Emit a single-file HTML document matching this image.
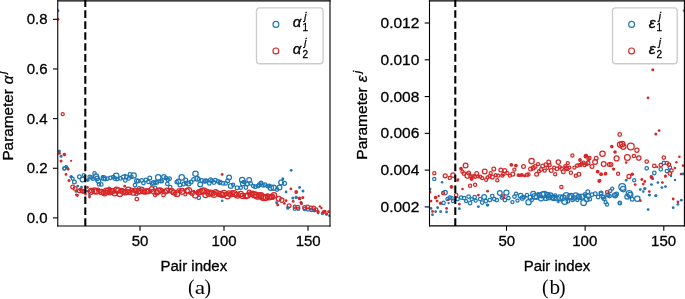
<!DOCTYPE html>
<html><head><meta charset="utf-8"><style>
html,body{margin:0;padding:0;background:#fff;}
#c{position:relative;width:685px;height:299px;overflow:hidden;background:#fff;}
svg{position:absolute;left:0;top:0;will-change:transform;}
</style></head><body><div id="c">
<svg width="685" height="299" viewBox="0 0 685 299">
<defs><clipPath id="cl"><rect x="57.75" y="0.75" width="272.25" height="225.25"/></clipPath><clipPath id="cr"><rect x="429.5" y="0.75" width="254.9" height="225.15"/></clipPath></defs><g clip-path="url(#cl)"><g fill="none" stroke="#1f77b4" stroke-width="1.25"><circle cx="57.68" cy="10.65" r="1.70" fill="#1f77b4" stroke="none"/><circle cx="59.36" cy="150.89" r="1.50" fill="#1f77b4" stroke="none"/><circle cx="61.04" cy="156.35" r="1.50" fill="#1f77b4" stroke="none"/><circle cx="64.40" cy="168.51" r="1.68"/><circle cx="66.08" cy="166.52" r="1.40" fill="#1f77b4" stroke="none"/><circle cx="67.76" cy="168.26" r="1.40" fill="#1f77b4" stroke="none"/><circle cx="88.00" cy="180.10" r="1.30" fill="#1f77b4" stroke="none"/><circle cx="91.40" cy="177.40" r="1.78"/><circle cx="94.50" cy="173.20" r="1.68"/><circle cx="96.10" cy="176.50" r="2.58"/><circle cx="97.10" cy="178.40" r="2.18"/><circle cx="98.30" cy="180.70" r="2.38"/><circle cx="98.90" cy="184.40" r="1.58"/><circle cx="101.30" cy="184.40" r="1.78"/><circle cx="102.80" cy="176.80" r="1.90" fill="#1f77b4" stroke="none"/><circle cx="103.60" cy="178.00" r="2.38"/><circle cx="105.10" cy="179.10" r="1.78"/><circle cx="107.40" cy="178.70" r="1.78"/><circle cx="109.00" cy="188.10" r="1.70" fill="#1f77b4" stroke="none"/><circle cx="110.50" cy="177.80" r="1.78"/><circle cx="113.20" cy="177.10" r="1.78"/><circle cx="116.20" cy="175.70" r="2.68"/><circle cx="117.20" cy="179.10" r="1.78"/><circle cx="120.60" cy="178.40" r="1.78"/><circle cx="125.00" cy="175.10" r="1.30" fill="#1f77b4" stroke="none"/><circle cx="125.30" cy="180.40" r="1.78"/><circle cx="128.70" cy="178.40" r="1.78"/><circle cx="130.00" cy="174.40" r="1.78"/><circle cx="133.70" cy="175.40" r="2.58"/><circle cx="135.00" cy="185.10" r="1.78"/><circle cx="138.10" cy="181.10" r="1.88"/><circle cx="139.00" cy="188.20" r="1.58"/><circle cx="141.70" cy="180.40" r="1.78"/><circle cx="143.40" cy="183.10" r="1.78"/><circle cx="145.80" cy="179.80" r="1.78"/><circle cx="149.80" cy="178.10" r="1.88"/><circle cx="151.80" cy="183.80" r="1.58"/><circle cx="155.10" cy="187.70" r="1.58"/><circle cx="155.50" cy="182.30" r="1.78"/><circle cx="158.20" cy="177.40" r="2.68"/><circle cx="160.50" cy="181.10" r="1.78"/><circle cx="163.90" cy="176.70" r="2.18"/><circle cx="165.90" cy="178.10" r="1.78"/><circle cx="167.90" cy="179.80" r="1.78"/><circle cx="169.60" cy="178.70" r="1.78"/><circle cx="167.30" cy="183.80" r="1.78"/><circle cx="170.20" cy="187.20" r="1.78"/><circle cx="176.70" cy="182.10" r="1.78"/><circle cx="178.40" cy="181.40" r="2.38"/><circle cx="180.00" cy="185.10" r="1.88"/><circle cx="181.70" cy="177.40" r="2.68"/><circle cx="185.70" cy="180.10" r="1.88"/><circle cx="186.30" cy="183.10" r="1.78"/><circle cx="188.40" cy="183.40" r="2.38"/><circle cx="191.10" cy="182.10" r="1.88"/><circle cx="193.50" cy="179.40" r="1.78"/><circle cx="195.50" cy="173.70" r="2.68"/><circle cx="197.20" cy="178.70" r="2.38"/><circle cx="200.20" cy="184.50" r="2.38"/><circle cx="201.90" cy="180.40" r="1.88"/><circle cx="204.50" cy="181.40" r="1.78"/><circle cx="206.60" cy="180.80" r="1.78"/><circle cx="209.30" cy="183.40" r="1.78"/><circle cx="211.90" cy="180.80" r="1.78"/><circle cx="215.30" cy="180.10" r="1.78"/><circle cx="218.00" cy="181.40" r="1.78"/><circle cx="219.70" cy="182.80" r="1.78"/><circle cx="220.30" cy="182.10" r="1.78"/><circle cx="223.00" cy="183.40" r="1.78"/><circle cx="225.70" cy="183.40" r="1.78"/><circle cx="227.70" cy="180.70" r="1.88"/><circle cx="229.10" cy="177.40" r="2.38"/><circle cx="230.80" cy="186.10" r="2.38"/><circle cx="233.10" cy="184.80" r="1.58"/><circle cx="237.10" cy="187.80" r="1.88"/><circle cx="242.20" cy="180.10" r="2.68"/><circle cx="242.80" cy="183.40" r="2.38"/><circle cx="245.90" cy="187.50" r="1.78"/><circle cx="249.20" cy="180.10" r="2.38"/><circle cx="250.60" cy="183.40" r="1.78"/><circle cx="253.30" cy="186.10" r="1.78"/><circle cx="255.30" cy="186.80" r="1.78"/><circle cx="258.00" cy="186.10" r="1.78"/><circle cx="261.00" cy="183.10" r="1.88"/><circle cx="263.30" cy="185.40" r="1.78"/><circle cx="260.80" cy="183.60" r="1.78"/><circle cx="265.00" cy="184.80" r="1.88"/><circle cx="267.70" cy="186.10" r="1.78"/><circle cx="270.80" cy="187.70" r="2.68"/><circle cx="273.70" cy="187.80" r="2.68"/><circle cx="279.50" cy="187.40" r="2.38"/><circle cx="281.10" cy="182.40" r="2.38"/><circle cx="282.80" cy="178.70" r="1.50" fill="#1f77b4" stroke="none"/><circle cx="277.00" cy="189.50" r="1.78"/><circle cx="89.60" cy="176.87" r="1.67"/><circle cx="92.96" cy="178.85" r="1.62"/><circle cx="114.80" cy="178.51" r="1.80"/><circle cx="123.20" cy="177.07" r="1.88"/><circle cx="126.56" cy="177.01" r="1.84"/><circle cx="131.60" cy="177.11" r="1.63"/><circle cx="136.64" cy="180.87" r="2.08"/><circle cx="148.40" cy="181.97" r="1.71"/><circle cx="153.44" cy="182.68" r="2.15"/><circle cx="156.80" cy="182.53" r="1.82"/><circle cx="161.84" cy="181.23" r="1.61"/><circle cx="183.68" cy="184.18" r="1.75"/><circle cx="198.80" cy="179.33" r="1.65"/><circle cx="205.52" cy="180.83" r="2.07"/><circle cx="210.56" cy="179.84" r="1.93"/><circle cx="213.92" cy="182.52" r="1.80"/><circle cx="240.80" cy="187.64" r="1.62"/><circle cx="244.16" cy="182.08" r="1.70"/><circle cx="247.52" cy="183.94" r="1.84"/><circle cx="259.28" cy="184.84" r="1.93"/><circle cx="269.36" cy="185.96" r="1.76"/><circle cx="284.48" cy="183.28" r="2.00"/><circle cx="71.10" cy="176.70" r="1.80" fill="#1f77b4" stroke="none"/><circle cx="72.70" cy="178.70" r="1.48"/><circle cx="74.40" cy="182.10" r="1.88"/><circle cx="77.80" cy="186.10" r="1.40" fill="#1f77b4" stroke="none"/><circle cx="81.50" cy="187.10" r="1.40" fill="#1f77b4" stroke="none"/><circle cx="79.40" cy="176.70" r="1.88"/><circle cx="82.50" cy="179.40" r="2.38"/><circle cx="83.80" cy="175.00" r="1.48"/><circle cx="87.80" cy="180.10" r="1.80" fill="#1f77b4" stroke="none"/><circle cx="76.10" cy="191.40" r="1.40" fill="#1f77b4" stroke="none"/><circle cx="87.20" cy="191.10" r="1.40" fill="#1f77b4" stroke="none"/><circle cx="89.50" cy="195.10" r="1.40" fill="#1f77b4" stroke="none"/><circle cx="66.40" cy="166.40" r="1.40" fill="#1f77b4" stroke="none"/><circle cx="64.40" cy="168.40" r="1.48"/><circle cx="198.80" cy="197.80" r="1.78"/><circle cx="222.20" cy="200.80" r="1.30" fill="#1f77b4" stroke="none"/><circle cx="286.10" cy="192.00" r="1.40" fill="#1f77b4" stroke="none"/><circle cx="291.20" cy="170.30" r="1.40" fill="#1f77b4" stroke="none"/><circle cx="292.80" cy="198.10" r="1.50" fill="#1f77b4" stroke="none"/><circle cx="296.20" cy="197.40" r="1.70" fill="#1f77b4" stroke="none"/><circle cx="299.60" cy="187.50" r="1.40" fill="#1f77b4" stroke="none"/><circle cx="303.00" cy="191.00" r="1.50" fill="#1f77b4" stroke="none"/><circle cx="300.90" cy="202.40" r="1.40" fill="#1f77b4" stroke="none"/><circle cx="276.70" cy="202.40" r="1.50" fill="#1f77b4" stroke="none"/><circle cx="287.80" cy="207.80" r="1.90" fill="#1f77b4" stroke="none"/><circle cx="294.80" cy="208.80" r="1.58"/><circle cx="301.40" cy="202.70" r="1.40" fill="#1f77b4" stroke="none"/><circle cx="298.30" cy="208.70" r="1.58"/><circle cx="304.70" cy="209.00" r="1.58"/><circle cx="308.00" cy="209.50" r="1.58"/><circle cx="311.40" cy="210.00" r="1.58"/><circle cx="314.50" cy="210.50" r="1.90" fill="#1f77b4" stroke="none"/><circle cx="318.10" cy="213.10" r="1.40" fill="#1f77b4" stroke="none"/><circle cx="322.40" cy="213.40" r="1.70" fill="#1f77b4" stroke="none"/><circle cx="326.50" cy="214.40" r="1.40" fill="#1f77b4" stroke="none"/><circle cx="329.50" cy="215.70" r="1.40" fill="#1f77b4" stroke="none"/><circle cx="136.30" cy="194.10" r="1.58"/><circle cx="110.10" cy="188.60" r="1.40" fill="#1f77b4" stroke="none"/></g><g fill="none" stroke="#d62728" stroke-width="1.25"><circle cx="57.68" cy="19.34" r="1.70" fill="#d62728" stroke="none"/><circle cx="59.36" cy="153.37" r="1.50" fill="#d62728" stroke="none"/><circle cx="61.04" cy="161.06" r="1.50" fill="#d62728" stroke="none"/><circle cx="62.72" cy="114.15" r="1.53"/><circle cx="64.40" cy="154.61" r="1.80" fill="#d62728" stroke="none"/><circle cx="68.10" cy="169.25" r="1.40" fill="#d62728" stroke="none"/><circle cx="71.12" cy="160.81" r="1.10" fill="#d62728" stroke="none"/><circle cx="91.28" cy="191.29" r="2.97"/><circle cx="92.96" cy="189.89" r="1.55"/><circle cx="94.64" cy="190.80" r="2.86"/><circle cx="96.32" cy="191.44" r="2.62"/><circle cx="98.00" cy="189.77" r="1.72"/><circle cx="99.68" cy="190.98" r="1.57"/><circle cx="101.36" cy="191.90" r="2.59"/><circle cx="103.04" cy="192.82" r="1.95"/><circle cx="104.72" cy="193.04" r="2.81"/><circle cx="106.40" cy="191.15" r="3.07"/><circle cx="108.08" cy="191.03" r="2.78"/><circle cx="109.76" cy="192.26" r="2.60"/><circle cx="111.44" cy="191.17" r="2.87"/><circle cx="113.12" cy="190.97" r="2.40"/><circle cx="114.80" cy="193.21" r="2.58"/><circle cx="116.48" cy="190.04" r="2.98"/><circle cx="118.16" cy="190.54" r="2.55"/><circle cx="119.84" cy="193.51" r="2.98"/><circle cx="121.52" cy="190.88" r="2.39"/><circle cx="123.20" cy="191.67" r="2.62"/><circle cx="124.88" cy="192.25" r="2.56"/><circle cx="126.56" cy="191.99" r="2.69"/><circle cx="128.24" cy="189.89" r="2.74"/><circle cx="129.92" cy="192.04" r="2.23"/><circle cx="131.60" cy="189.98" r="1.86"/><circle cx="133.28" cy="192.70" r="2.54"/><circle cx="134.96" cy="190.30" r="2.24"/><circle cx="136.64" cy="190.61" r="2.33"/><circle cx="138.32" cy="191.78" r="2.32"/><circle cx="140.00" cy="191.28" r="2.51"/><circle cx="141.68" cy="189.37" r="2.31"/><circle cx="143.36" cy="191.28" r="2.49"/><circle cx="145.04" cy="192.04" r="1.98"/><circle cx="146.72" cy="191.26" r="2.62"/><circle cx="148.40" cy="191.27" r="2.42"/><circle cx="150.08" cy="191.47" r="1.48"/><circle cx="151.76" cy="189.05" r="2.31"/><circle cx="153.44" cy="191.39" r="2.20"/><circle cx="155.12" cy="194.86" r="1.80"/><circle cx="156.80" cy="192.38" r="2.51"/><circle cx="158.48" cy="190.91" r="2.88"/><circle cx="160.16" cy="190.22" r="2.38"/><circle cx="161.84" cy="190.69" r="1.86"/><circle cx="163.52" cy="194.93" r="1.82"/><circle cx="165.20" cy="191.77" r="2.21"/><circle cx="166.88" cy="190.65" r="2.43"/><circle cx="168.56" cy="192.11" r="1.38" fill="#d62728" stroke="none"/><circle cx="170.24" cy="190.33" r="1.97"/><circle cx="171.92" cy="191.04" r="2.38"/><circle cx="173.60" cy="192.38" r="2.36"/><circle cx="175.28" cy="193.82" r="1.67"/><circle cx="176.96" cy="193.82" r="2.90"/><circle cx="178.64" cy="190.75" r="1.85"/><circle cx="180.32" cy="191.35" r="1.67"/><circle cx="182.00" cy="191.36" r="2.90"/><circle cx="183.68" cy="190.46" r="1.36" fill="#d62728" stroke="none"/><circle cx="185.36" cy="194.46" r="1.48"/><circle cx="187.04" cy="190.71" r="2.32"/><circle cx="188.72" cy="190.64" r="2.92"/><circle cx="190.40" cy="193.47" r="1.46" fill="#d62728" stroke="none"/><circle cx="192.08" cy="193.22" r="2.19"/><circle cx="193.76" cy="191.30" r="1.46" fill="#d62728" stroke="none"/><circle cx="195.44" cy="195.05" r="2.96"/><circle cx="197.12" cy="192.97" r="1.51"/><circle cx="198.80" cy="192.59" r="2.71"/><circle cx="200.48" cy="191.70" r="2.56"/><circle cx="202.16" cy="191.02" r="2.59"/><circle cx="203.84" cy="190.93" r="2.99"/><circle cx="205.52" cy="194.97" r="2.66"/><circle cx="207.20" cy="191.64" r="2.20"/><circle cx="208.88" cy="193.54" r="2.90"/><circle cx="210.56" cy="192.67" r="2.61"/><circle cx="212.24" cy="193.20" r="2.65"/><circle cx="213.92" cy="194.44" r="2.89"/><circle cx="215.60" cy="191.95" r="2.43"/><circle cx="217.28" cy="192.24" r="1.68"/><circle cx="218.96" cy="194.93" r="1.65"/><circle cx="220.64" cy="193.94" r="2.63"/><circle cx="222.32" cy="194.99" r="2.66"/><circle cx="224.00" cy="193.46" r="3.03"/><circle cx="225.68" cy="194.19" r="1.54"/><circle cx="227.36" cy="195.80" r="3.03"/><circle cx="229.04" cy="193.45" r="2.58"/><circle cx="230.72" cy="194.44" r="2.40"/><circle cx="232.40" cy="192.58" r="1.92"/><circle cx="234.08" cy="193.48" r="2.82"/><circle cx="235.76" cy="194.70" r="1.96"/><circle cx="237.44" cy="195.04" r="3.04"/><circle cx="239.12" cy="195.70" r="1.53" fill="#d62728" stroke="none"/><circle cx="240.80" cy="194.05" r="2.57"/><circle cx="242.48" cy="195.89" r="2.47"/><circle cx="244.16" cy="195.04" r="1.39"/><circle cx="245.84" cy="196.14" r="2.48"/><circle cx="247.52" cy="195.47" r="2.64"/><circle cx="249.20" cy="192.15" r="1.96"/><circle cx="250.88" cy="193.92" r="2.42"/><circle cx="252.56" cy="193.37" r="2.30"/><circle cx="254.24" cy="194.84" r="3.00"/><circle cx="255.92" cy="195.09" r="3.01"/><circle cx="257.60" cy="196.38" r="2.81"/><circle cx="259.28" cy="195.41" r="2.56"/><circle cx="260.96" cy="195.68" r="3.02"/><circle cx="262.64" cy="197.36" r="2.95"/><circle cx="264.32" cy="197.67" r="2.96"/><circle cx="266.00" cy="197.28" r="3.01"/><circle cx="267.68" cy="196.20" r="2.30"/><circle cx="269.36" cy="197.49" r="2.33"/><circle cx="271.04" cy="197.00" r="2.36"/><circle cx="272.72" cy="197.41" r="1.55"/><circle cx="124.70" cy="186.20" r="1.40" fill="#d62728" stroke="none"/><circle cx="136.80" cy="199.10" r="1.78"/><circle cx="66.00" cy="174.40" r="1.40" fill="#d62728" stroke="none"/><circle cx="69.00" cy="180.40" r="1.50" fill="#d62728" stroke="none"/><circle cx="72.70" cy="187.00" r="1.88"/><circle cx="75.10" cy="188.40" r="1.88"/><circle cx="79.40" cy="190.70" r="1.88"/><circle cx="76.40" cy="194.80" r="1.40" fill="#d62728" stroke="none"/><circle cx="77.50" cy="195.50" r="1.40" fill="#d62728" stroke="none"/><circle cx="82.10" cy="191.10" r="1.88"/><circle cx="83.80" cy="191.70" r="1.68"/><circle cx="85.50" cy="194.10" r="1.40" fill="#d62728" stroke="none"/><circle cx="87.50" cy="187.40" r="1.40" fill="#d62728" stroke="none"/><circle cx="89.50" cy="197.10" r="1.40" fill="#d62728" stroke="none"/><circle cx="91.50" cy="191.10" r="1.88"/><circle cx="80.50" cy="189.50" r="1.90" fill="#d62728" stroke="none"/><circle cx="222.20" cy="174.40" r="1.40" fill="#d62728" stroke="none"/><circle cx="272.00" cy="196.70" r="2.68"/><circle cx="274.00" cy="195.40" r="2.68"/><circle cx="278.70" cy="198.70" r="2.38"/><circle cx="281.80" cy="200.10" r="2.18"/><circle cx="286.10" cy="200.70" r="1.40" fill="#d62728" stroke="none"/><circle cx="284.40" cy="203.40" r="1.40" fill="#d62728" stroke="none"/><circle cx="277.70" cy="204.80" r="1.50" fill="#d62728" stroke="none"/><circle cx="289.10" cy="205.80" r="1.88"/><circle cx="293.20" cy="201.40" r="1.40" fill="#d62728" stroke="none"/><circle cx="296.20" cy="192.00" r="1.90" fill="#d62728" stroke="none"/><circle cx="299.60" cy="198.40" r="1.90" fill="#d62728" stroke="none"/><circle cx="302.90" cy="197.40" r="1.50" fill="#d62728" stroke="none"/><circle cx="301.20" cy="203.40" r="1.40" fill="#d62728" stroke="none"/><circle cx="294.80" cy="206.80" r="1.58"/><circle cx="297.80" cy="207.20" r="1.88"/><circle cx="290.90" cy="188.90" r="1.40" fill="#d62728" stroke="none"/><circle cx="304.60" cy="207.40" r="1.88"/><circle cx="307.70" cy="207.00" r="1.88"/><circle cx="311.10" cy="208.00" r="1.88"/><circle cx="313.70" cy="208.00" r="1.78"/><circle cx="316.10" cy="209.40" r="1.58"/><circle cx="318.10" cy="211.70" r="1.70" fill="#d62728" stroke="none"/><circle cx="319.80" cy="206.40" r="1.20" fill="#d62728" stroke="none"/><circle cx="321.40" cy="208.00" r="1.20" fill="#d62728" stroke="none"/><circle cx="323.40" cy="212.10" r="1.90" fill="#d62728" stroke="none"/><circle cx="324.80" cy="211.70" r="1.90" fill="#d62728" stroke="none"/><circle cx="326.80" cy="214.10" r="1.40" fill="#d62728" stroke="none"/><circle cx="328.50" cy="211.70" r="1.40" fill="#d62728" stroke="none"/><circle cx="301.40" cy="203.70" r="1.40" fill="#d62728" stroke="none"/></g></g><g clip-path="url(#cr)"><g fill="none" stroke="#1f77b4" stroke-width="1.25"><circle cx="430.00" cy="189.00" r="1.50" fill="#1f77b4" stroke="none"/><circle cx="431.00" cy="208.40" r="1.40" fill="#1f77b4" stroke="none"/><circle cx="432.50" cy="214.70" r="1.40" fill="#1f77b4" stroke="none"/><circle cx="434.30" cy="178.90" r="1.58"/><circle cx="435.60" cy="211.70" r="1.40" fill="#1f77b4" stroke="none"/><circle cx="437.60" cy="207.70" r="1.40" fill="#1f77b4" stroke="none"/><circle cx="440.60" cy="211.70" r="1.40" fill="#1f77b4" stroke="none"/><circle cx="443.60" cy="202.90" r="1.68"/><circle cx="445.10" cy="192.60" r="2.18"/><circle cx="446.60" cy="212.00" r="1.40" fill="#1f77b4" stroke="none"/><circle cx="448.60" cy="203.10" r="1.20" fill="#1f77b4" stroke="none"/><circle cx="449.70" cy="197.60" r="1.78"/><circle cx="442.10" cy="182.30" r="1.30" fill="#1f77b4" stroke="none"/><circle cx="459.40" cy="208.70" r="1.40" fill="#1f77b4" stroke="none"/><circle cx="478.40" cy="206.70" r="1.40" fill="#1f77b4" stroke="none"/><circle cx="487.90" cy="205.10" r="1.40" fill="#1f77b4" stroke="none"/><circle cx="451.50" cy="198.10" r="1.78"/><circle cx="457.60" cy="199.10" r="1.78"/><circle cx="461.10" cy="197.60" r="1.78"/><circle cx="464.10" cy="198.10" r="1.78"/><circle cx="466.10" cy="201.10" r="1.58"/><circle cx="468.60" cy="196.60" r="1.78"/><circle cx="470.10" cy="203.10" r="1.78"/><circle cx="471.70" cy="199.10" r="1.58"/><circle cx="474.70" cy="197.10" r="1.78"/><circle cx="475.70" cy="200.60" r="1.58"/><circle cx="480.20" cy="199.10" r="1.78"/><circle cx="482.20" cy="202.60" r="1.78"/><circle cx="484.20" cy="197.10" r="2.38"/><circle cx="485.80" cy="201.10" r="1.78"/><circle cx="487.30" cy="205.10" r="1.50" fill="#1f77b4" stroke="none"/><circle cx="489.80" cy="200.10" r="1.78"/><circle cx="492.30" cy="196.10" r="1.78"/><circle cx="494.30" cy="199.10" r="1.78"/><circle cx="496.80" cy="200.10" r="1.78"/><circle cx="499.80" cy="193.10" r="2.38"/><circle cx="501.90" cy="197.60" r="1.78"/><circle cx="504.90" cy="200.10" r="1.78"/><circle cx="506.40" cy="192.60" r="2.58"/><circle cx="508.40" cy="198.10" r="1.78"/><circle cx="512.40" cy="202.10" r="1.58"/><circle cx="514.50" cy="196.60" r="1.78"/><circle cx="516.00" cy="193.60" r="1.58"/><circle cx="517.50" cy="200.60" r="1.58"/><circle cx="453.00" cy="201.10" r="1.58"/><circle cx="447.50" cy="199.00" r="1.58"/><circle cx="520.65" cy="195.82" r="2.34"/><circle cx="522.23" cy="197.95" r="2.19"/><circle cx="523.80" cy="197.29" r="1.71"/><circle cx="525.37" cy="196.64" r="1.24" fill="#1f77b4" stroke="none"/><circle cx="526.95" cy="195.11" r="1.64"/><circle cx="528.52" cy="202.14" r="2.64"/><circle cx="530.09" cy="197.45" r="1.97"/><circle cx="531.66" cy="200.06" r="1.76"/><circle cx="533.24" cy="193.78" r="2.49"/><circle cx="534.81" cy="196.35" r="2.85"/><circle cx="536.38" cy="197.09" r="2.33"/><circle cx="537.96" cy="193.54" r="1.47" fill="#1f77b4" stroke="none"/><circle cx="539.53" cy="195.15" r="2.40"/><circle cx="541.10" cy="198.17" r="2.58"/><circle cx="542.68" cy="194.88" r="3.05"/><circle cx="544.25" cy="194.46" r="3.05"/><circle cx="545.82" cy="197.92" r="2.50"/><circle cx="547.39" cy="195.04" r="2.63"/><circle cx="548.97" cy="197.35" r="2.63"/><circle cx="550.54" cy="195.47" r="2.54"/><circle cx="552.11" cy="197.27" r="2.20"/><circle cx="553.69" cy="197.89" r="2.66"/><circle cx="555.26" cy="195.65" r="1.77"/><circle cx="556.83" cy="198.31" r="2.47"/><circle cx="558.41" cy="202.05" r="1.26" fill="#1f77b4" stroke="none"/><circle cx="559.98" cy="197.78" r="2.93"/><circle cx="561.55" cy="200.60" r="1.45" fill="#1f77b4" stroke="none"/><circle cx="563.12" cy="197.63" r="2.65"/><circle cx="564.70" cy="201.52" r="2.93"/><circle cx="566.27" cy="195.65" r="2.98"/><circle cx="567.84" cy="201.27" r="1.80"/><circle cx="569.42" cy="196.89" r="2.50"/><circle cx="570.99" cy="196.28" r="2.93"/><circle cx="572.56" cy="199.92" r="1.79"/><circle cx="574.14" cy="197.90" r="2.18"/><circle cx="575.71" cy="195.43" r="2.66"/><circle cx="577.28" cy="200.30" r="1.42"/><circle cx="578.86" cy="196.57" r="2.42"/><circle cx="580.43" cy="198.14" r="1.50"/><circle cx="582.00" cy="196.65" r="2.52"/><circle cx="583.57" cy="202.65" r="2.80"/><circle cx="585.15" cy="195.70" r="1.43"/><circle cx="586.72" cy="199.25" r="2.41"/><circle cx="588.29" cy="195.95" r="2.19"/><circle cx="585.00" cy="194.20" r="1.58"/><circle cx="587.80" cy="191.80" r="1.88"/><circle cx="589.70" cy="198.90" r="1.88"/><circle cx="592.00" cy="194.70" r="1.78"/><circle cx="595.30" cy="193.70" r="1.88"/><circle cx="598.10" cy="197.00" r="1.78"/><circle cx="600.90" cy="193.70" r="1.58"/><circle cx="603.30" cy="197.00" r="1.78"/><circle cx="604.20" cy="198.90" r="1.78"/><circle cx="605.60" cy="202.20" r="1.58"/><circle cx="607.00" cy="204.50" r="1.58"/><circle cx="608.40" cy="195.10" r="1.78"/><circle cx="610.30" cy="190.90" r="1.58"/><circle cx="612.20" cy="188.60" r="1.58"/><circle cx="614.50" cy="195.10" r="1.88"/><circle cx="601.00" cy="193.10" r="1.88"/><circle cx="603.00" cy="197.20" r="1.88"/><circle cx="607.60" cy="195.10" r="1.88"/><circle cx="609.60" cy="196.10" r="1.78"/><circle cx="615.10" cy="195.60" r="2.38"/><circle cx="616.60" cy="194.10" r="1.88"/><circle cx="619.60" cy="202.70" r="1.58"/><circle cx="622.20" cy="187.10" r="3.38"/><circle cx="623.20" cy="189.10" r="2.68"/><circle cx="626.20" cy="180.20" r="1.40" fill="#1f77b4" stroke="none"/><circle cx="629.20" cy="193.60" r="3.08"/><circle cx="630.20" cy="195.10" r="2.68"/><circle cx="627.20" cy="196.70" r="2.38"/><circle cx="632.20" cy="199.20" r="1.88"/><circle cx="634.20" cy="180.20" r="1.58"/><circle cx="637.30" cy="198.70" r="2.68"/><circle cx="640.30" cy="189.60" r="1.40" fill="#1f77b4" stroke="none"/><circle cx="644.80" cy="188.60" r="1.70" fill="#1f77b4" stroke="none"/><circle cx="643.30" cy="191.60" r="1.30" fill="#1f77b4" stroke="none"/><circle cx="619.90" cy="203.20" r="1.58"/><circle cx="651.40" cy="184.60" r="1.40" fill="#1f77b4" stroke="none"/><circle cx="652.40" cy="178.50" r="1.40" fill="#1f77b4" stroke="none"/><circle cx="657.90" cy="182.60" r="1.40" fill="#1f77b4" stroke="none"/><circle cx="661.90" cy="187.60" r="1.40" fill="#1f77b4" stroke="none"/><circle cx="665.50" cy="186.60" r="1.40" fill="#1f77b4" stroke="none"/><circle cx="649.30" cy="195.10" r="1.40" fill="#1f77b4" stroke="none"/><circle cx="655.90" cy="195.60" r="1.50" fill="#1f77b4" stroke="none"/><circle cx="648.10" cy="209.60" r="1.40" fill="#1f77b4" stroke="none"/><circle cx="673.20" cy="207.70" r="1.40" fill="#1f77b4" stroke="none"/><circle cx="677.90" cy="204.30" r="1.40" fill="#1f77b4" stroke="none"/><circle cx="681.30" cy="200.20" r="1.40" fill="#1f77b4" stroke="none"/><circle cx="649.60" cy="195.00" r="1.30" fill="#1f77b4" stroke="none"/><circle cx="655.80" cy="196.00" r="1.30" fill="#1f77b4" stroke="none"/><circle cx="646.70" cy="168.30" r="1.78"/><circle cx="654.30" cy="173.00" r="1.78"/><circle cx="660.80" cy="169.30" r="1.78"/><circle cx="663.80" cy="162.90" r="1.78"/><circle cx="666.90" cy="171.10" r="1.78"/><circle cx="669.90" cy="167.60" r="1.78"/><circle cx="683.00" cy="174.00" r="1.40" fill="#1f77b4" stroke="none"/><circle cx="652.80" cy="178.70" r="1.30" fill="#1f77b4" stroke="none"/><circle cx="675.00" cy="180.00" r="1.20" fill="#1f77b4" stroke="none"/><circle cx="671.00" cy="176.00" r="1.20" fill="#1f77b4" stroke="none"/></g><g fill="none" stroke="#d62728" stroke-width="1.25"><circle cx="430.00" cy="192.00" r="1.40" fill="#d62728" stroke="none"/><circle cx="431.00" cy="201.10" r="1.40" fill="#d62728" stroke="none"/><circle cx="432.50" cy="211.40" r="1.40" fill="#d62728" stroke="none"/><circle cx="434.30" cy="173.30" r="1.58"/><circle cx="435.60" cy="197.60" r="1.80" fill="#d62728" stroke="none"/><circle cx="437.10" cy="201.10" r="1.40" fill="#d62728" stroke="none"/><circle cx="438.60" cy="195.90" r="1.20" fill="#d62728" stroke="none"/><circle cx="440.60" cy="203.30" r="1.70" fill="#d62728" stroke="none"/><circle cx="443.10" cy="193.00" r="1.58"/><circle cx="445.20" cy="175.80" r="1.98"/><circle cx="446.60" cy="208.40" r="1.40" fill="#d62728" stroke="none"/><circle cx="448.10" cy="199.90" r="1.20" fill="#d62728" stroke="none"/><circle cx="449.80" cy="177.90" r="1.58"/><circle cx="451.50" cy="186.80" r="1.90" fill="#d62728" stroke="none"/><circle cx="453.00" cy="175.10" r="2.18"/><circle cx="456.20" cy="195.10" r="1.68"/><circle cx="457.60" cy="180.40" r="1.30" fill="#d62728" stroke="none"/><circle cx="459.40" cy="204.10" r="1.40" fill="#d62728" stroke="none"/><circle cx="462.50" cy="189.00" r="1.30" fill="#d62728" stroke="none"/><circle cx="458.00" cy="179.60" r="1.30" fill="#d62728" stroke="none"/><circle cx="478.40" cy="195.10" r="1.40" fill="#d62728" stroke="none"/><circle cx="487.60" cy="191.20" r="1.40" fill="#d62728" stroke="none"/><circle cx="470.10" cy="185.70" r="1.58"/><circle cx="475.10" cy="184.70" r="1.58"/><circle cx="461.00" cy="168.60" r="1.90" fill="#d62728" stroke="none"/><circle cx="465.60" cy="165.60" r="2.38"/><circle cx="467.60" cy="175.60" r="2.68"/><circle cx="468.60" cy="173.10" r="1.88"/><circle cx="471.60" cy="179.10" r="1.90" fill="#d62728" stroke="none"/><circle cx="473.60" cy="176.10" r="1.58"/><circle cx="476.70" cy="173.60" r="1.88"/><circle cx="480.20" cy="176.60" r="1.58"/><circle cx="482.20" cy="178.10" r="1.58"/><circle cx="484.70" cy="171.60" r="2.38"/><circle cx="486.20" cy="179.70" r="1.58"/><circle cx="489.70" cy="176.10" r="1.58"/><circle cx="490.70" cy="173.10" r="1.58"/><circle cx="493.80" cy="169.10" r="1.88"/><circle cx="497.30" cy="180.20" r="1.58"/><circle cx="495.80" cy="175.10" r="1.58"/><circle cx="498.30" cy="175.60" r="1.58"/><circle cx="500.80" cy="170.10" r="1.88"/><circle cx="502.30" cy="175.60" r="1.58"/><circle cx="504.80" cy="170.60" r="1.88"/><circle cx="507.40" cy="173.10" r="1.58"/><circle cx="509.90" cy="175.60" r="1.58"/><circle cx="511.40" cy="164.80" r="1.90" fill="#d62728" stroke="none"/><circle cx="515.90" cy="165.60" r="1.90" fill="#d62728" stroke="none"/><circle cx="514.40" cy="169.60" r="1.58"/><circle cx="518.40" cy="175.10" r="1.90" fill="#d62728" stroke="none"/><circle cx="521.50" cy="175.10" r="1.90" fill="#d62728" stroke="none"/><circle cx="523.50" cy="166.60" r="1.88"/><circle cx="462.45" cy="171.78" r="1.54"/><circle cx="464.03" cy="173.62" r="1.80"/><circle cx="470.32" cy="176.13" r="1.55"/><circle cx="475.04" cy="176.65" r="1.66"/><circle cx="478.18" cy="176.50" r="1.45"/><circle cx="487.62" cy="177.28" r="1.50"/><circle cx="492.34" cy="177.03" r="1.94"/><circle cx="503.35" cy="174.15" r="1.66"/><circle cx="512.79" cy="174.06" r="1.96"/><circle cx="522.00" cy="174.70" r="1.70" fill="#d62728" stroke="none"/><circle cx="519.50" cy="175.50" r="1.60" fill="#d62728" stroke="none"/><circle cx="524.50" cy="175.80" r="1.60" fill="#d62728" stroke="none"/><circle cx="531.60" cy="161.10" r="2.68"/><circle cx="530.60" cy="169.10" r="1.88"/><circle cx="535.10" cy="166.60" r="1.88"/><circle cx="536.60" cy="174.20" r="1.88"/><circle cx="538.10" cy="164.10" r="1.58"/><circle cx="539.10" cy="171.10" r="1.58"/><circle cx="542.70" cy="166.10" r="1.88"/><circle cx="544.70" cy="170.60" r="1.58"/><circle cx="548.70" cy="162.10" r="1.88"/><circle cx="549.70" cy="165.10" r="1.58"/><circle cx="551.20" cy="170.60" r="1.88"/><circle cx="554.20" cy="167.60" r="1.58"/><circle cx="555.20" cy="174.20" r="1.58"/><circle cx="558.30" cy="162.10" r="2.18"/><circle cx="559.80" cy="167.10" r="1.58"/><circle cx="563.30" cy="171.70" r="1.88"/><circle cx="565.30" cy="166.10" r="1.58"/><circle cx="567.80" cy="163.10" r="1.58"/><circle cx="567.30" cy="169.10" r="1.58"/><circle cx="570.90" cy="172.70" r="1.58"/><circle cx="572.40" cy="155.50" r="1.58"/><circle cx="574.40" cy="167.60" r="1.58"/><circle cx="575.90" cy="175.70" r="1.58"/><circle cx="578.90" cy="174.20" r="1.88"/><circle cx="579.40" cy="165.10" r="1.58"/><circle cx="581.90" cy="163.60" r="1.58"/><circle cx="585.50" cy="156.50" r="1.90" fill="#d62728" stroke="none"/><circle cx="586.50" cy="164.10" r="1.58"/><circle cx="588.50" cy="159.10" r="1.58"/><circle cx="527.00" cy="174.70" r="1.58"/><circle cx="528.52" cy="174.50" r="1.54"/><circle cx="533.24" cy="167.94" r="1.95"/><circle cx="541.10" cy="169.44" r="1.73"/><circle cx="545.82" cy="164.67" r="1.69"/><circle cx="547.39" cy="167.91" r="1.46"/><circle cx="556.83" cy="168.88" r="1.69"/><circle cx="561.55" cy="168.65" r="1.80"/><circle cx="566.27" cy="168.03" r="1.92"/><circle cx="569.42" cy="167.54" r="1.39"/><circle cx="577.28" cy="165.61" r="1.68"/><circle cx="580.43" cy="164.90" r="1.56"/><circle cx="583.57" cy="162.66" r="1.59"/><circle cx="586.00" cy="156.00" r="1.68"/><circle cx="589.50" cy="158.00" r="1.58"/><circle cx="596.20" cy="158.20" r="1.88"/><circle cx="595.10" cy="162.10" r="2.38"/><circle cx="588.00" cy="163.10" r="1.88"/><circle cx="592.00" cy="166.60" r="1.88"/><circle cx="602.50" cy="153.80" r="2.68"/><circle cx="603.70" cy="164.10" r="2.38"/><circle cx="609.30" cy="164.60" r="1.88"/><circle cx="611.00" cy="164.60" r="1.88"/><circle cx="615.00" cy="152.00" r="1.80" fill="#d62728" stroke="none"/><circle cx="616.60" cy="158.40" r="2.48"/><circle cx="627.40" cy="157.50" r="2.88"/><circle cx="626.20" cy="162.60" r="1.30" fill="#d62728" stroke="none"/><circle cx="633.90" cy="156.00" r="1.68"/><circle cx="638.80" cy="158.00" r="2.18"/><circle cx="597.70" cy="171.70" r="1.90" fill="#d62728" stroke="none"/><circle cx="601.10" cy="174.20" r="1.90" fill="#d62728" stroke="none"/><circle cx="605.60" cy="173.70" r="1.90" fill="#d62728" stroke="none"/><circle cx="613.60" cy="169.10" r="1.70" fill="#d62728" stroke="none"/><circle cx="618.10" cy="173.70" r="1.58"/><circle cx="628.90" cy="176.40" r="1.98"/><circle cx="632.20" cy="174.20" r="1.80" fill="#d62728" stroke="none"/><circle cx="619.70" cy="134.50" r="1.78"/><circle cx="611.80" cy="146.60" r="1.80" fill="#d62728" stroke="none"/><circle cx="620.20" cy="144.60" r="2.78"/><circle cx="622.20" cy="144.10" r="2.78"/><circle cx="623.20" cy="146.60" r="2.78"/><circle cx="630.80" cy="146.60" r="3.38"/><circle cx="636.90" cy="150.30" r="2.08"/><circle cx="607.00" cy="192.10" r="1.58"/><circle cx="599.20" cy="181.00" r="1.90" fill="#d62728" stroke="none"/><circle cx="584.50" cy="165.00" r="1.58"/><circle cx="580.00" cy="160.00" r="1.90" fill="#d62728" stroke="none"/><circle cx="648.00" cy="97.90" r="1.30" fill="#d62728" stroke="none"/><circle cx="652.80" cy="69.80" r="1.50" fill="#d62728" stroke="none"/><circle cx="655.80" cy="133.90" r="1.50" fill="#d62728" stroke="none"/><circle cx="659.10" cy="130.60" r="1.40" fill="#d62728" stroke="none"/><circle cx="646.70" cy="161.60" r="1.78"/><circle cx="654.30" cy="165.90" r="1.78"/><circle cx="657.30" cy="167.10" r="1.20" fill="#d62728" stroke="none"/><circle cx="660.80" cy="165.10" r="1.78"/><circle cx="663.80" cy="157.60" r="1.78"/><circle cx="666.90" cy="163.10" r="1.78"/><circle cx="668.90" cy="164.60" r="1.78"/><circle cx="671.40" cy="170.60" r="1.78"/><circle cx="669.90" cy="173.40" r="1.78"/><circle cx="679.40" cy="156.80" r="1.30" fill="#d62728" stroke="none"/><circle cx="676.40" cy="162.30" r="1.20" fill="#d62728" stroke="none"/><circle cx="674.90" cy="168.10" r="1.30" fill="#d62728" stroke="none"/><circle cx="683.00" cy="165.60" r="1.30" fill="#d62728" stroke="none"/><circle cx="681.00" cy="174.00" r="1.30" fill="#d62728" stroke="none"/><circle cx="665.30" cy="176.40" r="1.30" fill="#d62728" stroke="none"/><circle cx="651.20" cy="177.00" r="1.30" fill="#d62728" stroke="none"/><circle cx="640.30" cy="200.70" r="1.40" fill="#d62728" stroke="none"/><circle cx="635.20" cy="184.60" r="1.40" fill="#d62728" stroke="none"/><circle cx="641.80" cy="179.50" r="1.40" fill="#d62728" stroke="none"/><circle cx="644.80" cy="181.50" r="1.40" fill="#d62728" stroke="none"/><circle cx="643.30" cy="184.10" r="1.40" fill="#d62728" stroke="none"/><circle cx="649.30" cy="191.60" r="1.40" fill="#d62728" stroke="none"/><circle cx="651.40" cy="177.00" r="1.90" fill="#d62728" stroke="none"/><circle cx="662.40" cy="182.60" r="1.40" fill="#d62728" stroke="none"/><circle cx="665.50" cy="176.00" r="1.40" fill="#d62728" stroke="none"/><circle cx="600.00" cy="180.50" r="1.40" fill="#d62728" stroke="none"/><circle cx="673.20" cy="199.00" r="1.40" fill="#d62728" stroke="none"/><circle cx="677.90" cy="201.80" r="1.40" fill="#d62728" stroke="none"/><circle cx="683.90" cy="10.70" r="1.15" fill="#d62728" stroke="none"/><circle cx="503.20" cy="196.60" r="1.68"/><circle cx="561.40" cy="187.00" r="1.68"/></g></g><line x1="85.3" y1="226.0" x2="85.3" y2="0" stroke="#000" stroke-width="2.07" stroke-dasharray="7.64 3.31"/><line x1="455.3" y1="225.9" x2="455.3" y2="0" stroke="#000" stroke-width="2.07" stroke-dasharray="7.64 3.31"/><g stroke="#000" stroke-width="1.1" stroke-linecap="square"><line x1="57.75" y1="0.75" x2="57.75" y2="226.0"/><line x1="330.0" y1="0.75" x2="330.0" y2="226.0"/><line x1="57.75" y1="226.0" x2="330.0" y2="226.0"/><line x1="57.75" y1="0.75" x2="330.0" y2="0.75" stroke-width="1.25"/></g><g stroke="#000" stroke-width="1.1" stroke-linecap="square"><line x1="429.5" y1="0.75" x2="429.5" y2="225.9"/><line x1="684.4" y1="0.75" x2="684.4" y2="225.9"/><line x1="429.5" y1="225.9" x2="684.4" y2="225.9"/><line x1="429.5" y1="0.75" x2="684.4" y2="0.75" stroke-width="1.25"/></g><g stroke="#000" stroke-width="1.1"><line x1="52.95" y1="217.90" x2="57.75" y2="217.90"/><line x1="52.95" y1="168.26" x2="57.75" y2="168.26"/><line x1="52.95" y1="118.62" x2="57.75" y2="118.62"/><line x1="52.95" y1="68.98" x2="57.75" y2="68.98"/><line x1="52.95" y1="19.34" x2="57.75" y2="19.34"/><line x1="140.00" y1="226.0" x2="140.00" y2="230.8"/><line x1="224.00" y1="226.0" x2="224.00" y2="230.8"/><line x1="308.00" y1="226.0" x2="308.00" y2="230.8"/><line x1="424.7" y1="206.90" x2="429.5" y2="206.90"/><line x1="424.7" y1="170.12" x2="429.5" y2="170.12"/><line x1="424.7" y1="133.34" x2="429.5" y2="133.34"/><line x1="424.7" y1="96.56" x2="429.5" y2="96.56"/><line x1="424.7" y1="59.78" x2="429.5" y2="59.78"/><line x1="424.7" y1="23.00" x2="429.5" y2="23.00"/><line x1="506.50" y1="225.9" x2="506.50" y2="230.7"/><line x1="585.15" y1="225.9" x2="585.15" y2="230.7"/><line x1="663.80" y1="225.9" x2="663.80" y2="230.7"/></g><g fill="#000"><text font-family="Liberation Sans, sans-serif" font-size="14.5" text-anchor="end" transform="translate(47.50 223.00) scale(1.035 1)" stroke="#000" stroke-width="0.3">0.0</text><text font-family="Liberation Sans, sans-serif" font-size="14.5" text-anchor="end" transform="translate(47.50 173.36) scale(1.035 1)" stroke="#000" stroke-width="0.3">0.2</text><text font-family="Liberation Sans, sans-serif" font-size="14.5" text-anchor="end" transform="translate(47.50 123.72) scale(1.035 1)" stroke="#000" stroke-width="0.3">0.4</text><text font-family="Liberation Sans, sans-serif" font-size="14.5" text-anchor="end" transform="translate(47.50 74.08) scale(1.035 1)" stroke="#000" stroke-width="0.3">0.6</text><text font-family="Liberation Sans, sans-serif" font-size="14.5" text-anchor="end" transform="translate(47.50 24.44) scale(1.035 1)" stroke="#000" stroke-width="0.3">0.8</text><text font-family="Liberation Sans, sans-serif" font-size="14.5" text-anchor="end" transform="translate(419.30 212.00) scale(1.07 1)" stroke="#000" stroke-width="0.3">0.002</text><text font-family="Liberation Sans, sans-serif" font-size="14.5" text-anchor="end" transform="translate(419.30 175.22) scale(1.07 1)" stroke="#000" stroke-width="0.3">0.004</text><text font-family="Liberation Sans, sans-serif" font-size="14.5" text-anchor="end" transform="translate(419.30 138.44) scale(1.07 1)" stroke="#000" stroke-width="0.3">0.006</text><text font-family="Liberation Sans, sans-serif" font-size="14.5" text-anchor="end" transform="translate(419.30 101.66) scale(1.07 1)" stroke="#000" stroke-width="0.3">0.008</text><text font-family="Liberation Sans, sans-serif" font-size="14.5" text-anchor="end" transform="translate(419.30 64.88) scale(1.07 1)" stroke="#000" stroke-width="0.3">0.010</text><text font-family="Liberation Sans, sans-serif" font-size="14.5" text-anchor="end" transform="translate(419.30 28.10) scale(1.07 1)" stroke="#000" stroke-width="0.3">0.012</text><text font-family="Liberation Sans, sans-serif" font-size="14.5" text-anchor="middle" transform="translate(140.00 245.80) scale(1.035 1)" stroke="#000" stroke-width="0.3">50</text><text font-family="Liberation Sans, sans-serif" font-size="14.5" text-anchor="middle" transform="translate(224.10 245.80) scale(1.035 1)" stroke="#000" stroke-width="0.3">100</text><text font-family="Liberation Sans, sans-serif" font-size="14.5" text-anchor="middle" transform="translate(308.20 245.80) scale(1.035 1)" stroke="#000" stroke-width="0.3">150</text><text font-family="Liberation Sans, sans-serif" font-size="14.5" text-anchor="middle" transform="translate(506.80 245.80) scale(1.035 1)" stroke="#000" stroke-width="0.3">50</text><text font-family="Liberation Sans, sans-serif" font-size="14.5" text-anchor="middle" transform="translate(584.80 245.80) scale(1.035 1)" stroke="#000" stroke-width="0.3">100</text><text font-family="Liberation Sans, sans-serif" font-size="14.5" text-anchor="middle" transform="translate(663.60 245.80) scale(1.035 1)" stroke="#000" stroke-width="0.3">150</text><text font-family="Liberation Sans, sans-serif" font-size="14.5" text-anchor="middle" transform="translate(193.85 270.90) scale(1.035 1)" stroke="#000" stroke-width="0.3">Pair index</text><text font-family="Liberation Sans, sans-serif" font-size="14.5" text-anchor="middle" transform="translate(557.00 270.90) scale(1.035 1)" stroke="#000" stroke-width="0.3">Pair index</text><text font-family="Liberation Serif, serif" font-size="20.5" text-anchor="start" transform="translate(187.90 294.10) scale(0.96 1)">(</text><text font-family="Liberation Serif, serif" font-size="19.5" text-anchor="start" transform="translate(194.70 294.10) scale(1.2 1)">a</text><text font-family="Liberation Serif, serif" font-size="20.5" text-anchor="start" transform="translate(204.40 294.10) scale(0.96 1)">)</text><text font-family="Liberation Serif, serif" font-size="20.5" text-anchor="start" transform="translate(541.90 294.10) scale(0.96 1)">(</text><text font-family="Liberation Serif, serif" font-size="19.9" text-anchor="start" transform="translate(549.50 294.30) scale(1.07 1)">b</text><text font-family="Liberation Serif, serif" font-size="20.5" text-anchor="start" transform="translate(559.10 294.10) scale(0.96 1)">)</text></g><text font-family="Liberation Sans, sans-serif" font-size="14.5" text-anchor="start" transform="translate(12.60 160.60) rotate(-90) scale(1.057 1)" stroke="#000" stroke-width="0.3">Parameter <tspan font-style="italic" dx="0.6">α</tspan><tspan font-style="italic" font-size="10" dx="1.6" dy="-6.3">j</tspan></text><text font-family="Liberation Sans, sans-serif" font-size="14.5" text-anchor="start" transform="translate(367.00 159.70) rotate(-90) scale(1.072 1)" stroke="#000" stroke-width="0.3">Parameter <tspan font-style="italic" dx="0.6">ε</tspan><tspan font-style="italic" font-size="10" dx="2.0" dy="-6.3">j</tspan></text><rect x="256.5" y="7.9" width="66.6" height="55.8" rx="3" ry="3" fill="#fff" fill-opacity="0.8" stroke="#cccccc" stroke-width="1.35"/><circle cx="275.9" cy="24.4" r="2.95" fill="none" stroke="#1f77b4" stroke-width="1.15"/><circle cx="275.9" cy="50.9" r="2.95" fill="none" stroke="#d62728" stroke-width="1.15"/><text font-family="Liberation Sans, sans-serif" font-size="14.5" text-anchor="start" transform="translate(292.80 27.30) scale(1.03 1)" stroke="#000" stroke-width="0.3" font-style="italic">α</text><text font-family="Liberation Sans, sans-serif" font-size="10" text-anchor="start" transform="translate(304.30 19.80) scale(1.0 1)" stroke="#000" stroke-width="0.3" font-style="italic">j</text><text font-family="Liberation Sans, sans-serif" font-size="10" text-anchor="start" transform="translate(302.40 31.00) scale(1.0 1)" stroke="#000" stroke-width="0.3">1</text><text font-family="Liberation Sans, sans-serif" font-size="14.5" text-anchor="start" transform="translate(292.80 53.80) scale(1.03 1)" stroke="#000" stroke-width="0.3" font-style="italic">α</text><text font-family="Liberation Sans, sans-serif" font-size="10" text-anchor="start" transform="translate(304.30 46.30) scale(1.0 1)" stroke="#000" stroke-width="0.3" font-style="italic">j</text><text font-family="Liberation Sans, sans-serif" font-size="10" text-anchor="start" transform="translate(302.40 57.50) scale(1.0 1)" stroke="#000" stroke-width="0.3">2</text><rect x="612.5" y="7.9" width="64.7" height="55.8" rx="3" ry="3" fill="#fff" fill-opacity="0.8" stroke="#cccccc" stroke-width="1.35"/><circle cx="631.6" cy="24.4" r="2.95" fill="none" stroke="#1f77b4" stroke-width="1.15"/><circle cx="631.6" cy="50.9" r="2.95" fill="none" stroke="#d62728" stroke-width="1.15"/><text font-family="Liberation Sans, sans-serif" font-size="14.5" text-anchor="start" transform="translate(648.85 27.80) scale(1.08 1)" stroke="#000" stroke-width="0.3" font-style="italic">ε</text><text font-family="Liberation Sans, sans-serif" font-size="10" text-anchor="start" transform="translate(658.80 19.80) scale(1.0 1)" stroke="#000" stroke-width="0.3" font-style="italic">j</text><text font-family="Liberation Sans, sans-serif" font-size="10" text-anchor="start" transform="translate(656.50 31.00) scale(1.0 1)" stroke="#000" stroke-width="0.3">1</text><text font-family="Liberation Sans, sans-serif" font-size="14.5" text-anchor="start" transform="translate(648.85 54.30) scale(1.08 1)" stroke="#000" stroke-width="0.3" font-style="italic">ε</text><text font-family="Liberation Sans, sans-serif" font-size="10" text-anchor="start" transform="translate(658.80 46.30) scale(1.0 1)" stroke="#000" stroke-width="0.3" font-style="italic">j</text><text font-family="Liberation Sans, sans-serif" font-size="10" text-anchor="start" transform="translate(656.50 57.50) scale(1.0 1)" stroke="#000" stroke-width="0.3">2</text>
</svg></div></body></html>
